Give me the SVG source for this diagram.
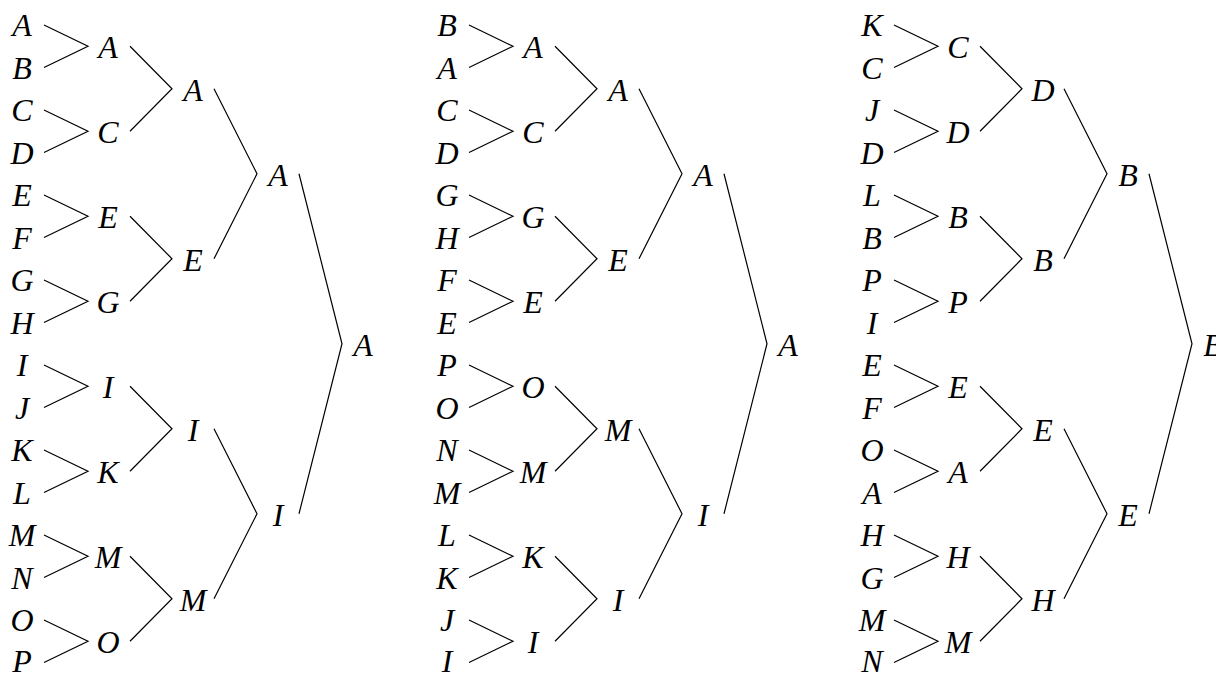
<svg xmlns="http://www.w3.org/2000/svg" width="1216" height="674" viewBox="0 0 1216 674">
<style>
text{font-family:"Liberation Serif","Times New Roman",serif;font-style:italic;font-size:32px;text-anchor:middle;fill:#000}
</style>
<rect width="1216" height="674" fill="#fff"/>
<defs>
<g id="edges" fill="none" stroke="#000" stroke-width="1.2">
<path d="M44 25L88 46.25L44 67.5"/>
<path d="M44 110L88 131.25L44 152.5"/>
<path d="M44 195L88 216.25L44 237.5"/>
<path d="M44 280L88 301.25L44 322.5"/>
<path d="M44 365L88 386.25L44 407.5"/>
<path d="M44 450L88 471.25L44 492.5"/>
<path d="M44 535L88 556.25L44 577.5"/>
<path d="M44 620L88 641.25L44 662.5"/>
<path d="M130 46.25L172 88.75L130 131.25"/>
<path d="M130 216.25L172 258.75L130 301.25"/>
<path d="M130 386.25L172 428.75L130 471.25"/>
<path d="M130 556.25L172 598.75L130 641.25"/>
<path d="M214 88.75L257 173.75L214 258.75"/>
<path d="M214 428.75L257 513.75L214 598.75"/>
<path d="M299 173.75L342 343.75L299 513.75"/>
</g>
</defs>
<g id="connectors">
<use href="#edges"/>
<use href="#edges" x="425"/>
<use href="#edges" x="850"/>
</g>
<g id="tree1">
<g id="t1-leaf-A"><text x="22" y="36">A</text></g>
<g id="t1-leaf-B"><text x="22" y="78.5">B</text></g>
<g id="t1-leaf-C"><text x="22" y="121">C</text></g>
<g id="t1-leaf-D"><text x="22" y="163.5">D</text></g>
<g id="t1-leaf-E"><text x="22" y="206">E</text></g>
<g id="t1-leaf-F"><text x="22" y="248.5">F</text></g>
<g id="t1-leaf-G"><text x="22" y="291">G</text></g>
<g id="t1-leaf-H"><text x="22" y="333.5">H</text></g>
<g id="t1-leaf-I"><text x="22" y="376">I</text></g>
<g id="t1-leaf-J"><text x="22" y="418.5">J</text></g>
<g id="t1-leaf-K"><text x="22" y="461">K</text></g>
<g id="t1-leaf-L"><text x="22" y="503.5">L</text></g>
<g id="t1-leaf-M"><text x="22" y="546">M</text></g>
<g id="t1-leaf-N"><text x="22" y="588.5">N</text></g>
<g id="t1-leaf-O"><text x="22" y="631">O</text></g>
<g id="t1-leaf-P"><text x="22" y="672">P</text></g>
<g id="t1-r1-1"><text x="108" y="58">A</text></g>
<g id="t1-r1-2"><text x="108" y="143">C</text></g>
<g id="t1-r1-3"><text x="108" y="228">E</text></g>
<g id="t1-r1-4"><text x="108" y="313">G</text></g>
<g id="t1-r1-5"><text x="108" y="398">I</text></g>
<g id="t1-r1-6"><text x="108" y="483">K</text></g>
<g id="t1-r1-7"><text x="108" y="568">M</text></g>
<g id="t1-r1-8"><text x="108" y="653">O</text></g>
<g id="t1-r2-1"><text x="193" y="101">A</text></g>
<g id="t1-r2-2"><text x="193" y="271">E</text></g>
<g id="t1-r2-3"><text x="193" y="441">I</text></g>
<g id="t1-r2-4"><text x="193" y="611">M</text></g>
<g id="t1-r3-1"><text x="278" y="186">A</text></g>
<g id="t1-r3-2"><text x="278" y="526">I</text></g>
<g id="t1-final"><text x="363" y="356">A</text></g>
</g>
<g id="tree2" transform="translate(425 0)">
<g id="t2-leaf-1"><text x="22" y="36">B</text></g>
<g id="t2-leaf-2"><text x="22" y="78.5">A</text></g>
<g id="t2-leaf-3"><text x="22" y="121">C</text></g>
<g id="t2-leaf-4"><text x="22" y="163.5">D</text></g>
<g id="t2-leaf-5"><text x="22" y="206">G</text></g>
<g id="t2-leaf-6"><text x="22" y="248.5">H</text></g>
<g id="t2-leaf-7"><text x="22" y="291">F</text></g>
<g id="t2-leaf-8"><text x="22" y="333.5">E</text></g>
<g id="t2-leaf-9"><text x="22" y="376">P</text></g>
<g id="t2-leaf-10"><text x="22" y="418.5">O</text></g>
<g id="t2-leaf-11"><text x="22" y="461">N</text></g>
<g id="t2-leaf-12"><text x="22" y="503.5">M</text></g>
<g id="t2-leaf-13"><text x="22" y="546">L</text></g>
<g id="t2-leaf-14"><text x="22" y="588.5">K</text></g>
<g id="t2-leaf-15"><text x="22" y="631">J</text></g>
<g id="t2-leaf-16"><text x="22" y="672">I</text></g>
<g id="t2-r1-1"><text x="108" y="58">A</text></g>
<g id="t2-r1-2"><text x="108" y="143">C</text></g>
<g id="t2-r1-3"><text x="108" y="228">G</text></g>
<g id="t2-r1-4"><text x="108" y="313">E</text></g>
<g id="t2-r1-5"><text x="108" y="398">O</text></g>
<g id="t2-r1-6"><text x="108" y="483">M</text></g>
<g id="t2-r1-7"><text x="108" y="568">K</text></g>
<g id="t2-r1-8"><text x="108" y="653">I</text></g>
<g id="t2-r2-1"><text x="193" y="101">A</text></g>
<g id="t2-r2-2"><text x="193" y="271">E</text></g>
<g id="t2-r2-3"><text x="193" y="441">M</text></g>
<g id="t2-r2-4"><text x="193" y="611">I</text></g>
<g id="t2-r3-1"><text x="278" y="186">A</text></g>
<g id="t2-r3-2"><text x="278" y="526">I</text></g>
<g id="t2-final"><text x="363" y="356">A</text></g>
</g>
<g id="tree3" transform="translate(850 0)">
<g id="t3-leaf-1"><text x="22" y="36">K</text></g>
<g id="t3-leaf-2"><text x="22" y="78.5">C</text></g>
<g id="t3-leaf-3"><text x="22" y="121">J</text></g>
<g id="t3-leaf-4"><text x="22" y="163.5">D</text></g>
<g id="t3-leaf-5"><text x="22" y="206">L</text></g>
<g id="t3-leaf-6"><text x="22" y="248.5">B</text></g>
<g id="t3-leaf-7"><text x="22" y="291">P</text></g>
<g id="t3-leaf-8"><text x="22" y="333.5">I</text></g>
<g id="t3-leaf-9"><text x="22" y="376">E</text></g>
<g id="t3-leaf-10"><text x="22" y="418.5">F</text></g>
<g id="t3-leaf-11"><text x="22" y="461">O</text></g>
<g id="t3-leaf-12"><text x="22" y="503.5">A</text></g>
<g id="t3-leaf-13"><text x="22" y="546">H</text></g>
<g id="t3-leaf-14"><text x="22" y="588.5">G</text></g>
<g id="t3-leaf-15"><text x="22" y="631">M</text></g>
<g id="t3-leaf-16"><text x="22" y="672">N</text></g>
<g id="t3-r1-1"><text x="108" y="58">C</text></g>
<g id="t3-r1-2"><text x="108" y="143">D</text></g>
<g id="t3-r1-3"><text x="108" y="228">B</text></g>
<g id="t3-r1-4"><text x="108" y="313">P</text></g>
<g id="t3-r1-5"><text x="108" y="398">E</text></g>
<g id="t3-r1-6"><text x="108" y="483">A</text></g>
<g id="t3-r1-7"><text x="108" y="568">H</text></g>
<g id="t3-r1-8"><text x="108" y="653">M</text></g>
<g id="t3-r2-1"><text x="193" y="101">D</text></g>
<g id="t3-r2-2"><text x="193" y="271">B</text></g>
<g id="t3-r2-3"><text x="193" y="441">E</text></g>
<g id="t3-r2-4"><text x="193" y="611">H</text></g>
<g id="t3-r3-1"><text x="278" y="186">B</text></g>
<g id="t3-r3-2"><text x="278" y="526">E</text></g>
<g id="t3-final"><text x="363" y="356">B</text></g>
</g>
</svg>
